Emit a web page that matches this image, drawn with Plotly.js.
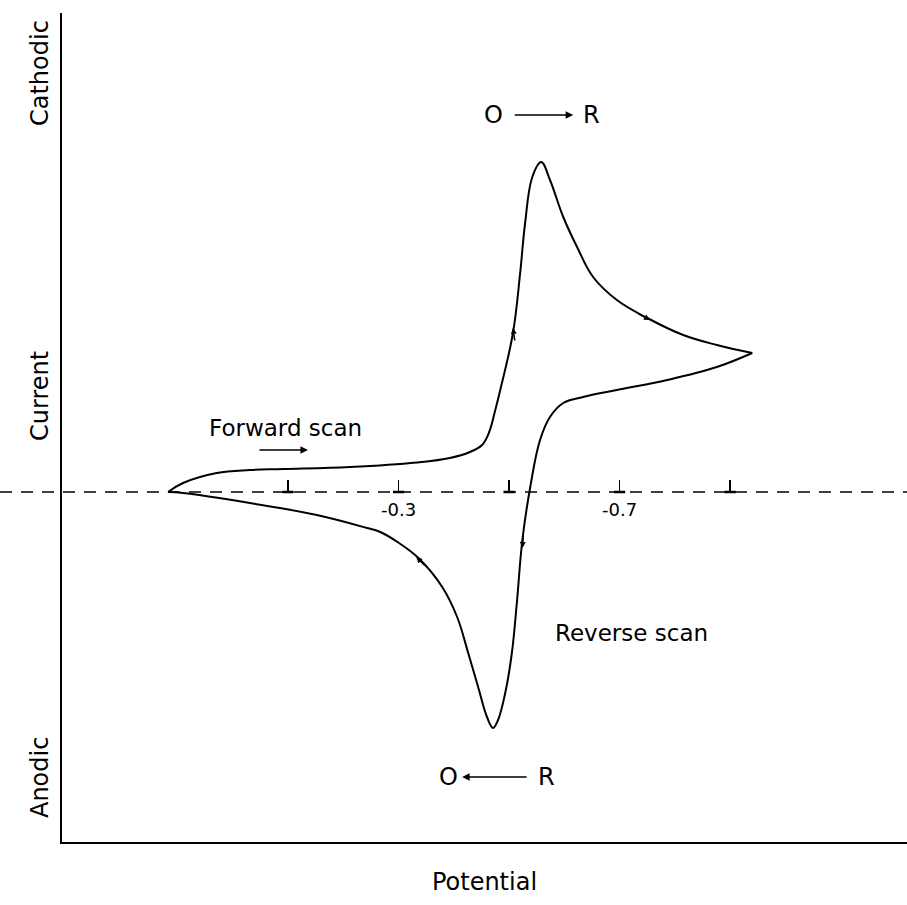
<!DOCTYPE html>
<html>
<head>
<meta charset="utf-8">
<script src="https://cdn.plot.ly/plotly-3.0.1.min.js"></script>
<style>html,body{margin:0;padding:0;background:#fff;}#chart{width:907px;height:905px;}</style>
</head>
<body>
<div id="chart"></div>
<script>
// Forward scan (O -> R), potential in V, current in arbitrary units (cathodic positive)
const potentialFwd = [0.117, 0.090, 0.029, -0.031, -0.091, -0.212, -0.333, -0.393, -0.429, -0.451, -0.464, -0.475, -0.484, -0.507, -0.520, -0.529, -0.542, -0.558, -0.574, -0.598, -0.623, -0.652, -0.695, -0.750, -0.815, -0.876, -0.940];
const currentFwd   = [0.0, 0.9, 1.9, 2.2, 2.3, 2.5, 2.95, 3.4, 4.0, 4.7, 6.0, 8.2, 10.2, 15.9, 21.9, 26.9, 31.5, 33.0, 31.2, 27.5, 24.5, 21.5, 19.2, 17.4, 15.7, 14.7, 13.9];
// Reverse scan (R -> O)
const potentialRev = [-0.940, -0.876, -0.786, -0.695, -0.634, -0.598, -0.574, -0.556, -0.538, -0.524, -0.514, -0.505, -0.493, -0.480, -0.471, -0.460, -0.444, -0.426, -0.406, -0.379, -0.336, -0.298, -0.267, -0.243, -0.152, -0.031, 0.090, 0.117];
const currentRev   = [13.9, 12.5, 11.2, 10.2, 9.5, 8.9, 7.5, 5.2, 0.4, -4.8, -11.1, -16.1, -20.1, -22.8, -23.6, -22.5, -19.5, -16.1, -12.5, -9.5, -6.6, -5.0, -4.0, -3.6, -2.3, -1.1, -0.1, 0.0];
// Potential ticks on the zero-current line
const tickPotentials = [-0.1, -0.3, -0.5, -0.7, -0.9];
const tickLabels = ['', '-0.3', '', '-0.7', ''];
const tickCurrents = [0, 0, 0, 0, 0];

const xRange = [0.309, -1.220];
const yRange = [-35, 47.9];
const zeroPos = (0 - yRange[0]) / (yRange[1] - yRange[0]);
const FONT = 'DejaVu Sans, sans-serif';

const lineStyle = {color: 'black', width: 2, shape: 'spline', smoothing: 1.1};
const traces = [
  {x: potentialFwd, y: currentFwd, mode: 'lines', line: lineStyle, hoverinfo: 'skip', showlegend: false},
  {x: potentialRev, y: currentRev, mode: 'lines', line: lineStyle, hoverinfo: 'skip', showlegend: false},
  {x: tickPotentials, y: tickCurrents, xaxis: 'x2', mode: 'markers',
   marker: {symbol: 'line-ew', size: 8, line: {color: 'black', width: 2.5}}, hoverinfo: 'skip', showlegend: false}
];

function arrow(x, y, ax, ay, size) {
  return {x: x, y: y, xref: 'x', yref: 'y', ax: ax, ay: ay, text: '', showarrow: true,
          arrowhead: 2, arrowsize: size || 1, arrowwidth: 1.5, arrowcolor: 'black', standoff: 0};
}
function label(text, x, y, size) {
  return {x: x, y: y, xref: 'x', yref: 'y', text: text, showarrow: false,
          font: {family: FONT, size: size || 24, color: 'black'}};
}
function ylabel(text, y) {
  return {x: -0.026, y: y, xref: 'paper', yref: 'y', xanchor: 'center', yanchor: 'middle',
          text: text, showarrow: false, textangle: -90,
          font: {family: FONT, size: 24, color: 'black'}};
}

const layout = {
  width: 907, height: 905,
  margin: {l: 62, r: 0, t: 13, b: 63},
  paper_bgcolor: 'white', plot_bgcolor: 'white',
  font: {family: FONT, color: 'black'},
  xaxis: {range: xRange, autorange: false, showline: true, linewidth: 2, linecolor: 'black',
          showgrid: false, zeroline: false, ticks: '', showticklabels: false,
          title: {text: 'Potential', font: {family: FONT, size: 24, color: 'black'}, standoff: 30}},
  xaxis2: {range: xRange, autorange: false, overlaying: 'x', anchor: 'free', position: zeroPos, side: 'bottom',
           showline: false, showgrid: false, zeroline: false,
           ticks: 'inside', ticklen: 12, tickwidth: 1.5, tickcolor: 'black',
           tickmode: 'array', tickvals: tickPotentials, ticktext: tickLabels, ticklabelstandoff: 5,
           tickfont: {family: FONT, size: 18, color: 'black'}},
  yaxis: {range: yRange, autorange: false, showline: true, linewidth: 2, linecolor: 'black',
          showgrid: false, zeroline: false, ticks: '', showticklabels: false},
  shapes: [
    {type: 'line', xref: 'paper', yref: 'y', x0: -62/845, x1: 1, y0: 0, y1: 0,
     line: {color: 'black', width: 1.5, dash: '12px,9px'}}
  ],
  annotations: [
    ylabel('Cathodic', 41.9), ylabel('Current', 9.6), ylabel('Anodic', -28.6),
    label('Forward scan', -0.095, 6.4, 23),
    arrow(-0.136, 4.2, -50, 0, 1),
    label('Reverse scan', -0.721, -14.1, 23),
    label('O', -0.471, 37.7, 24),
    arrow(-0.616, 37.7, -60, 0, 1),
    label('R', -0.650, 37.7, 24),
    label('O', -0.390, -28.5, 24),
    arrow(-0.415, -28.5, 66, 0, 1),
    label('R', -0.567, -28.5, 24),
    arrow(-0.507, 16.4, 2, 14, 0.8),
    arrow(-0.755, 17.2, -13, -7, 0.8),
    arrow(-0.524, -5.6, 1, -14, 0.8),
    arrow(-0.332, -6.5, 10, 10, 0.8)
  ]
};

Plotly.newPlot('chart', traces, layout, {staticPlot: true, displayModeBar: false});
</script>
</body>
</html>
